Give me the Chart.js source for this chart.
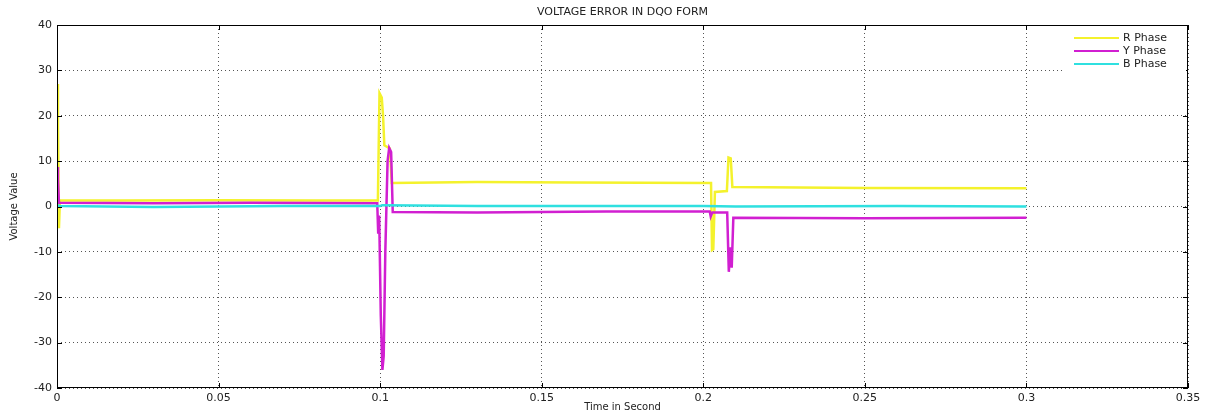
<!DOCTYPE html>
<html>
<head>
<meta charset="utf-8">
<title>Voltage error in DQO form</title>
<script src="https://cdn.jsdelivr.net/npm/chart.js@4.4.0/dist/chart.umd.min.js"></script>
<style>
  html, body { margin: 0; padding: 0; background: #fff; }
</style>
</head>
<body>
<canvas id="errorChart" width="1208" height="416"></canvas>
<script>
const chartTitle = 'VOLTAGE ERROR IN DQO FORM';
const xAxisTitle = 'Time in Second';
const yAxisTitle = 'Voltage Value';
const seriesLabels = ['R Phase', 'Y Phase', 'B Phase'];
const seriesColors = ['#f4f22c', '#d11fd1', '#2fe0e0'];

// R phase (yellow)
const rTime = [0, 0.0003, 0.0006, 0.0009, 0.02, 0.05, 0.08, 0.0993, 0.0998, 0.1005, 0.1009, 0.1013, 0.1030, 0.1036,
    0.13, 0.16, 0.2024, 0.2027, 0.2031, 0.2036, 0.2073, 0.2078, 0.2085, 0.2090, 0.25, 0.3];
const rValue = [27, 18, -4.8, 1.4, 1.3, 1.4, 1.3, 1.3, 25, 24, 20, 13.5, 12.8, 5.2,
    5.4, 5.3, 5.2, -9.6, -9.4, 3.2, 3.4, 10.8, 10.6, 4.3, 4.1, 4.0];

// Y phase (magenta)
const yTime = [0, 0.0003, 0.0006, 0.0009, 0.03, 0.06, 0.0991, 0.0994, 0.0997, 0.1002, 0.1007, 0.1011, 0.1016, 0.1023,
    0.1028, 0.1034, 0.1039, 0.13, 0.17, 0.2020, 0.2023, 0.2028, 0.2074, 0.2079, 0.2084, 0.2088, 0.2093, 0.25, 0.3];
const yValue = [8.7, 6, 0.8, 0.8, 0.7, 0.8, 0.7, -6, -2, -24, -36, -33, -10, 10,
    12.9, 12, -1.2, -1.3, -1.1, -1.1, -2.2, -1.3, -1.3, -14.4, -9, -13.5, -2.5, -2.6, -2.5];

// B phase (cyan)
const bTime = [0, 0.0008, 0.03, 0.07, 0.1, 0.1006, 0.13, 0.2, 0.21, 0.26, 0.3];
const bValue = [0.3, 0.1, -0.1, 0.1, 0.1, 0.3, 0.1, 0.1, 0.0, 0.1, 0.0];

const xTicks = { min: 0, max: 0.35, step: 0.05 };
const yTicks = { min: -40, max: 40, step: 10 };

const FONT = 'DejaVu Sans';
const TEXT = '#222';

function toPoints(times, values) {
    return times.map((t, i) => ({ x: t, y: values[i] }));
}

// box, inward ticks, legend and title like the matlab figure
const framePlugin = {
    id: 'frame',
    afterDraw(chart) {
        const { ctx, chartArea: a, scales } = chart;
        ctx.save();
        ctx.strokeStyle = '#000';
        ctx.lineWidth = 1;
        ctx.setLineDash([]);
        ctx.strokeRect(a.left + 0.5, a.top + 0.5, a.right - a.left - 1, a.bottom - a.top - 1);

        ctx.beginPath();
        scales.x.ticks.forEach(t => {
            const px = Math.round(scales.x.getPixelForValue(t.value)) + 0.5;
            ctx.moveTo(px, a.bottom); ctx.lineTo(px, a.bottom - 5);
            ctx.moveTo(px, a.top); ctx.lineTo(px, a.top + 5);
        });
        scales.y.ticks.forEach(t => {
            const py = Math.round(scales.y.getPixelForValue(t.value)) + 0.5;
            ctx.moveTo(a.left, py); ctx.lineTo(a.left + 5, py);
            ctx.moveTo(a.right, py); ctx.lineTo(a.right - 5, py);
        });
        ctx.stroke();

        // legend, top right inside the axes
        const lx = a.right - 125;
        ctx.fillStyle = '#fff';
        ctx.fillRect(lx, a.top + 2, 123, 46);
        ctx.font = '11px "' + FONT + '"';
        ctx.textBaseline = 'middle';
        chart.data.datasets.forEach((ds, i) => {
            const y = a.top + 13 + i * 13;
            ctx.strokeStyle = ds.borderColor;
            ctx.lineWidth = 2;
            ctx.beginPath();
            ctx.moveTo(a.right - 114, y);
            ctx.lineTo(a.right - 69, y);
            ctx.stroke();
            ctx.fillStyle = TEXT;
            ctx.fillText(ds.label, a.right - 65, y);
        });

        // title centred over the plot area
        ctx.font = '11px "' + FONT + '"';
        ctx.textAlign = 'center';
        ctx.fillStyle = TEXT;
        ctx.fillText(chartTitle, (a.left + a.right) / 2, 12);
        ctx.restore();
    }
};

const ctx = document.getElementById('errorChart').getContext('2d');

new Chart(ctx, {
    type: 'line',
    data: {
        datasets: [
            { label: seriesLabels[0], data: toPoints(rTime, rValue), borderColor: seriesColors[0], order: 3 },
            { label: seriesLabels[1], data: toPoints(yTime, yValue), borderColor: seriesColors[1], order: 2 },
            { label: seriesLabels[2], data: toPoints(bTime, bValue), borderColor: seriesColors[2], order: 1 },
        ],
    },
    options: {
        responsive: false,
        animation: false,
        layout: { padding: { top: 25, right: 20, left: 0, bottom: 0 } },
        elements: {
            point: { radius: 0 },
            line: { borderWidth: 2.5, tension: 0, fill: false },
        },
        plugins: {
            legend: { display: false },
            title: { display: false },
            tooltip: { enabled: false },
        },
        scales: {
            x: {
                type: 'linear',
                min: xTicks.min,
                max: xTicks.max,
                afterFit: scale => { scale.height = 28; },
                grid: { color: '#555', drawTicks: false },
                border: { display: false, dash: [1, 3] },
                ticks: {
                    stepSize: xTicks.step,
                    padding: 4,
                    color: TEXT,
                    font: { family: FONT, size: 11 },
                    maxRotation: 0,
                    callback: v => parseFloat(v.toFixed(2)),
                },
                title: {
                    display: true,
                    text: xAxisTitle,
                    color: TEXT,
                    font: { family: FONT, size: 10 },
                    padding: { top: 0, bottom: 3 },
                },
            },
            y: {
                min: yTicks.min,
                max: yTicks.max,
                afterFit: scale => { scale.width = 57; },
                grid: { color: '#555', drawTicks: false },
                border: { display: false, dash: [1, 3] },
                ticks: {
                    stepSize: yTicks.step,
                    padding: 5,
                    color: TEXT,
                    font: { family: FONT, size: 11 },
                },
                title: {
                    display: true,
                    text: yAxisTitle,
                    color: TEXT,
                    font: { family: FONT, size: 10 },
                    padding: { top: 8, bottom: 0 },
                },
            },
        },
    },
    plugins: [framePlugin],
});
</script>
</body>
</html>
